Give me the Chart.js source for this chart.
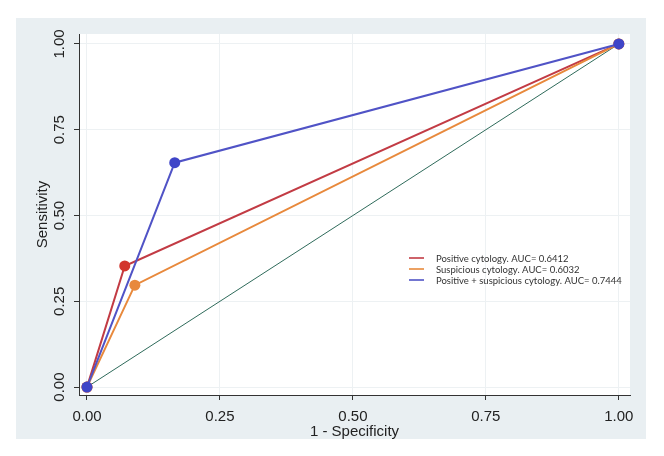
<!DOCTYPE html>
<html>
<head>
<meta charset="utf-8">
<script src="https://cdn.jsdelivr.net/npm/chart.js@4.4.1/dist/chart.umd.min.js"></script>
<style>
  html, body { margin: 0; padding: 0; background: #fff; }
  #wrap { width: 664px; height: 456px; }
</style>
</head>
<body>
<div id="wrap"><canvas id="chart"></canvas></div>
<script>
// ROC points: 1 - specificity (x) and sensitivity (y)
const fprPositive = [0, 0.071, 1];
const sensPositive = [0, 0.353, 1];
const fprSuspicious = [0, 0.090, 1];
const sensSuspicious = [0, 0.297, 1];
const fprCombined = [0, 0.165, 1];
const sensCombined = [0, 0.654, 1];
const refLineX = [0, 1];
const refLineY = [0, 1];

const labels = [
  "Positive cytology. AUC= 0.6412",
  "Suspicious cytology. AUC= 0.6032",
  "Positive + suspicious cytology. AUC= 0.7444"
];
const xTicks = [0, 0.25, 0.5, 0.75, 1];
const yTicks = [0, 0.25, 0.5, 0.75, 1];

const RED = "#c23b44", ORANGE = "#e8893c", BLUE = "#5053c6", GREEN = "#2f6b5b";

const pts = (xs, ys) => xs.map((x, i) => ({ x, y: ys[i] }));
const AXIS_FONT = { family: "'Liberation Sans', Arial, sans-serif", size: 15 };

// panel background like the Stata graph region
const panelBg = {
  id: "panelBg",
  beforeDraw(chart) {
    const { ctx, chartArea: a } = chart;
    ctx.save();
    ctx.fillStyle = "#fff";
    ctx.fillRect(0, 0, chart.width, chart.height);
    ctx.fillStyle = "#e9eff2";
    ctx.fillRect(16, 18, 630, 421);
    ctx.fillStyle = "#fff";
    ctx.fillRect(a.left, a.top, a.right - a.left, a.bottom - a.top);
    ctx.restore();
  }
};

// y tick labels are rotated in the original
const yLabels = {
  id: "yLabels",
  afterDraw(chart) {
    const { ctx } = chart;
    const ys = chart.scales.y;
    ctx.save();
    ctx.fillStyle = "#222";
    ctx.font = "15px 'Liberation Sans', Arial, sans-serif";
    ctx.textAlign = "center";
    ctx.textBaseline = "middle";
    yTicks.forEach(v => {
      ctx.save();
      ctx.translate(ys.left + 44, ys.getPixelForValue(v));
      ctx.rotate(-Math.PI / 2);
      ctx.fillText(v.toFixed(2), 0, 0);
      ctx.restore();
    });
    ctx.restore();
  }
};

// legend placed inside the plot region
const innerLegend = {
  id: "innerLegend",
  afterDraw(chart) {
    const { ctx } = chart;
    ctx.save();
    ctx.font = "9.5px Lato, sans-serif";
    ctx.textBaseline = "middle";
    ctx.fillStyle = "#333";
    chart.data.datasets.slice(0, 3).forEach((ds, i) => {
      const y = 258 + i * 11;
      ctx.strokeStyle = ds.borderColor;
      ctx.lineWidth = 1.6;
      ctx.beginPath();
      ctx.moveTo(409, y);
      ctx.lineTo(424, y);
      ctx.stroke();
      ctx.fillText(ds.label, 436, y + 0.5);
    });
    ctx.restore();
  }
};

new Chart(document.getElementById("chart"), {
  type: "line",
  data: {
    datasets: [
      { label: labels[0], data: pts(fprPositive, sensPositive), borderColor: RED, backgroundColor: "#d2362e",
        borderWidth: 2, pointRadius: 5.5, pointBorderWidth: 0, order: 2 },
      { label: labels[1], data: pts(fprSuspicious, sensSuspicious), borderColor: ORANGE, backgroundColor: "#e8893c",
        borderWidth: 2, pointRadius: 5.5, pointBorderWidth: 0, order: 1 },
      { label: labels[2], data: pts(fprCombined, sensCombined), borderColor: BLUE, backgroundColor: "#3f45c8",
        borderWidth: 2, pointRadius: 5.5, pointBorderWidth: 0, order: 0 },
      { label: "reference", data: pts(refLineX, refLineY), borderColor: GREEN,
        borderWidth: 1, pointRadius: 0, order: 3 }
    ]
  },
  options: {
    responsive: true,
    maintainAspectRatio: false,
    animation: false,
    events: [],
    layout: { padding: { left: 16, top: 34, right: 34, bottom: 17 } },
    plugins: { legend: { display: false }, tooltip: { enabled: false } },
    scales: {
      x: {
        type: "linear",
        min: -0.015,
        max: 1.021,
        afterBuildTicks: s => { s.ticks = xTicks.map(v => ({ value: v })); },
        afterFit: s => { s.height = 44; },
        ticks: { color: "#222", font: AXIS_FONT, padding: 8, callback: v => v.toFixed(2), maxRotation: 0 },
        grid: { color: "#edf1f3", tickColor: "#333", tickLength: 5 },
        border: { color: "#333", width: 1 },
        title: { display: true, text: "1 - Specificity", color: "#222",
                 font: { ...AXIS_FONT, lineHeight: 1 }, padding: { top: 0, bottom: 0 } }
      },
      y: {
        type: "linear",
        min: -0.023,
        max: 1.029,
        afterBuildTicks: s => { s.ticks = yTicks.map(v => ({ value: v })); },
        afterFit: s => { s.width = 63; },
        ticks: { display: false },
        grid: { color: "#edf1f3", tickColor: "#333", tickLength: 5 },
        border: { color: "#333", width: 1 },
        title: { display: true, text: "Sensitivity", color: "#222",
                 font: AXIS_FONT, padding: { top: 18, bottom: 0 } }
      }
    }
  },
  plugins: [panelBg, yLabels, innerLegend]
});
</script>
</body>
</html>
